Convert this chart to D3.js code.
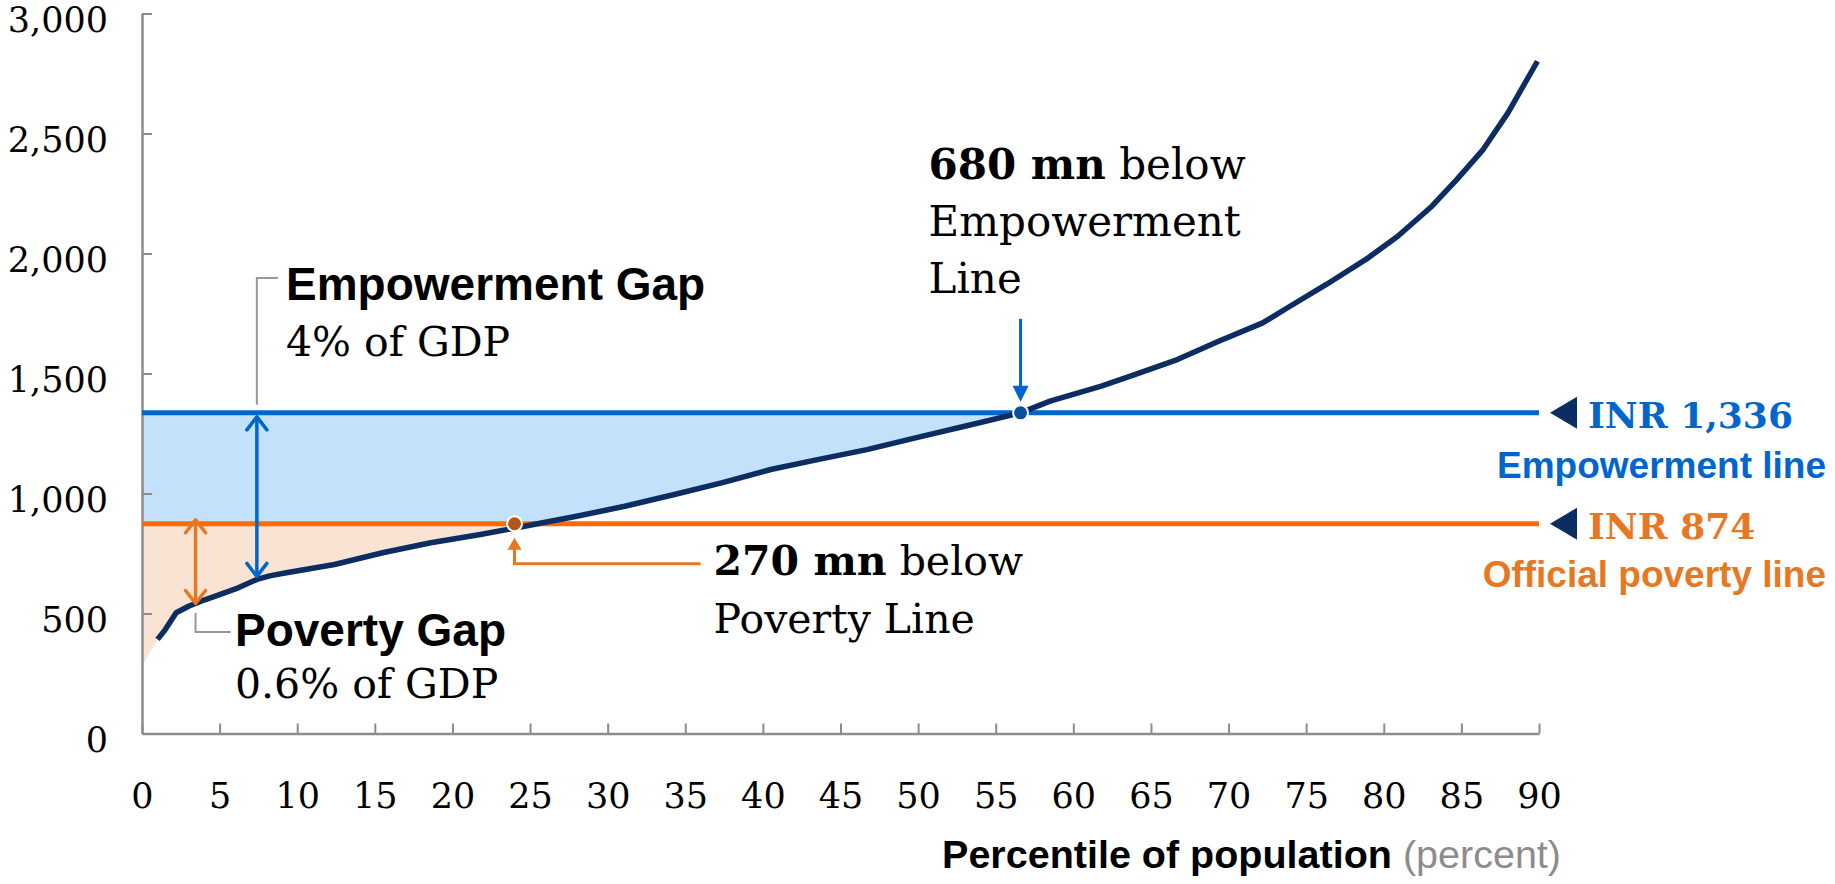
<!DOCTYPE html>
<html>
<head>
<meta charset="utf-8">
<script src="https://cdn.jsdelivr.net/npm/d3@7"></script>
<style>
  html, body { margin: 0; padding: 0; background: #ffffff; }
  svg { display: block; }
</style>
</head>
<body>
<svg id="chart" width="1835" height="884"></svg>
<script>
// Monthly per-capita consumption (INR) across population percentiles
const percentiles = [0, 1.0, 1.5, 2.2, 3.0, 4.0, 5.0, 6.2, 7.4, 8.3, 9.3, 12.4, 15.5, 18.6, 21.8, 23.8,
  28.0, 31.1, 34.3, 37.4, 40.5, 43.6, 46.7, 50.3, 53.0, 56.6, 58.5, 61.8, 64.0, 66.7, 69.4, 72.2,
  73.8, 76.3, 79.0, 80.9, 83.1, 84.7, 86.4, 88.0, 89.9];
const consumption = [280, 392, 433, 503, 530, 556, 579, 607, 642, 658, 670, 704, 753, 795, 829, 853,
  905, 947, 996, 1045, 1100, 1142, 1183, 1239, 1280, 1336, 1385, 1447, 1496, 1558, 1635, 1711,
  1774, 1871, 1982, 2072, 2197, 2308, 2433, 2586, 2801];

const xTicks = [0, 5, 10, 15, 20, 25, 30, 35, 40, 45, 50, 55, 60, 65, 70, 75, 80, 85, 90];
const yTicks = [0, 500, 1000, 1500, 2000, 2500, 3000];

// Reference lines (INR per month)
const EMPOWERMENT_LINE = 1336;
const POVERTY_LINE = 874;

// Where the curve meets each line, and where the gap arrows sit (percentile)
const empowermentCrossPct = 56.6;
const povertyCrossPct = 24;
const empowermentGapPct = 7.4;
const povertyGapPct = 3.45;

const SERIF = "'DejaVu Serif', Georgia, serif";
const SANS = "'Liberation Sans', Arial, sans-serif";
const C = {
  navy: "#0b2d62",
  blue: "#0066cc",
  blueFill: "#c4e1fb",
  orange: "#ff6a00",
  orangeDark: "#e87722",
  peach: "#f9e3d3",
  axis: "#8c8c8c",
  bracket: "#999999",
  povDot: "#b4561c",
  empDot: "#0a4fa0"
};

const svg = d3.select("#chart");
const x = d3.scaleLinear().domain([0, 90]).range([142, 1539]);
const y = d3.scaleLinear().domain([0, 3000]).range([733.5, 13.5]);

const pts = percentiles.map((p, i) => ({ p, v: consumption[i] }));
const valueAt = p => {
  const i = d3.bisector(d => d.p).left(pts, p);
  if (i <= 0) return pts[0].v;
  if (i >= pts.length) return pts[pts.length - 1].v;
  const a = pts[i - 1], b = pts[i];
  return a.v + (b.v - a.v) * (p - a.p) / (b.p - a.p);
};

// ---- clip regions for the two gap fills
const defs = svg.append("defs");
defs.append("clipPath").attr("id", "clipEmp").append("rect")
  .attr("x", x(0)).attr("y", y(EMPOWERMENT_LINE))
  .attr("width", x(90) - x(0)).attr("height", y(POVERTY_LINE) - y(EMPOWERMENT_LINE));
defs.append("clipPath").attr("id", "clipPov").append("rect")
  .attr("x", x(0)).attr("y", y(POVERTY_LINE))
  .attr("width", x(90) - x(0)).attr("height", y(0) - y(POVERTY_LINE));

// Empowerment gap: between the empowerment line and the curve / poverty line
svg.append("path")
  .datum(pts)
  .attr("clip-path", "url(#clipEmp)")
  .attr("fill", C.blueFill)
  .attr("d", d3.area().x(d => x(d.p)).y0(y(EMPOWERMENT_LINE)).y1(d => y(d.v)));

// Poverty gap: between the poverty line and the curve
svg.append("path")
  .datum(pts)
  .attr("clip-path", "url(#clipPov)")
  .attr("fill", C.peach)
  .attr("d", d3.area().x(d => x(d.p)).y0(y(POVERTY_LINE)).y1(d => y(d.v)));

// ---- axes
const yAxis = svg.append("g")
  .attr("transform", `translate(${x(0)},0)`)
  .call(d3.axisLeft(y).tickValues(yTicks).tickFormat(d3.format(","))
    .tickSizeInner(-10).tickSizeOuter(0).tickPadding(34));
const xAxis = svg.append("g")
  .attr("transform", `translate(0,${y(0)})`)
  .call(d3.axisBottom(x).tickValues(xTicks).tickFormat(d3.format("d"))
    .tickSizeInner(-10).tickSizeOuter(0).tickPadding(50));

[yAxis, xAxis].forEach(g => {
  g.select(".domain").attr("stroke", C.axis).attr("stroke-width", 2.5);
  g.selectAll(".tick line").attr("stroke", C.axis).attr("stroke-width", 2);
  g.selectAll(".tick text")
    .attr("font-family", SERIF).attr("font-size", 35).attr("fill", "#000");
});
yAxis.selectAll(".tick text").attr("dy", "0.5em");

// ---- threshold lines
svg.append("line")
  .attr("x1", x(0)).attr("x2", x(90))
  .attr("y1", y(EMPOWERMENT_LINE)).attr("y2", y(EMPOWERMENT_LINE))
  .attr("stroke", C.blue).attr("stroke-width", 5);
svg.append("line")
  .attr("x1", x(0)).attr("x2", x(90))
  .attr("y1", y(POVERTY_LINE)).attr("y2", y(POVERTY_LINE))
  .attr("stroke", C.orange).attr("stroke-width", 5);

// ---- consumption curve
svg.append("path")
  .datum(pts.slice(1))
  .attr("fill", "none")
  .attr("stroke", C.navy)
  .attr("stroke-width", 5.5)
  .attr("stroke-linejoin", "round")
  .attr("d", d3.line().x(d => x(d.p)).y(d => y(d.v)));

// ---- double-headed gap arrows (open chevrons)
function doubleArrow(px, yTop, yBot, color) {
  const g = svg.append("g").attr("fill", "none").attr("stroke", color)
    .attr("stroke-width", 3.5).attr("stroke-linecap", "round").attr("stroke-linejoin", "round");
  g.append("line").attr("x1", px).attr("x2", px).attr("y1", yTop + 1).attr("y2", yBot - 1);
  g.append("path").attr("d", `M${px - 10},${yTop + 13}L${px},${yTop}L${px + 10},${yTop + 13}`);
  g.append("path").attr("d", `M${px - 10},${yBot - 13}L${px},${yBot}L${px + 10},${yBot - 13}`);
}
doubleArrow(x(empowermentGapPct), y(EMPOWERMENT_LINE) + 4, y(valueAt(empowermentGapPct)) - 3, C.blue);
doubleArrow(x(povertyGapPct), y(POVERTY_LINE) - 4, y(valueAt(povertyGapPct)), C.orangeDark);

// ---- gap labels with leader brackets
const egx = x(empowermentGapPct);
svg.append("path")
  .attr("d", `M${egx},${y(EMPOWERMENT_LINE) - 8}V278H${egx + 21}`)
  .attr("fill", "none").attr("stroke", C.bracket).attr("stroke-width", 2);
svg.append("text").attr("x", 286).attr("y", 300)
  .attr("font-family", SANS).attr("font-weight", "bold").attr("font-size", 46)
  .text("Empowerment Gap");
svg.append("text").attr("x", 286).attr("y", 356)
  .attr("font-family", SERIF).attr("font-size", 41)
  .text("4% of GDP");

const pgx = x(povertyGapPct);
svg.append("path")
  .attr("d", `M${pgx},613V632H${pgx + 35}`)
  .attr("fill", "none").attr("stroke", C.bracket).attr("stroke-width", 2);
svg.append("text").attr("x", 235).attr("y", 646)
  .attr("font-family", SANS).attr("font-weight", "bold").attr("font-size", 46)
  .text("Poverty Gap");
svg.append("text").attr("x", 235).attr("y", 698)
  .attr("font-family", SERIF).attr("font-size", 41)
  .text("0.6% of GDP");

// ---- empowerment-line crossing callout
const ex = x(empowermentCrossPct), ey = y(EMPOWERMENT_LINE);
svg.append("line").attr("x1", ex).attr("x2", ex).attr("y1", ey - 94).attr("y2", ey - 22)
  .attr("stroke", C.blue).attr("stroke-width", 3);
svg.append("path").attr("d", `M${ex - 8},${ey - 27}L${ex + 8},${ey - 27}L${ex},${ey - 11}Z`)
  .attr("fill", C.blue);
const empText = svg.append("text").attr("font-family", SERIF).attr("font-size", 42).attr("fill", "#000");
empText.append("tspan").attr("x", ex - 92).attr("y", ey - 234)
  .attr("font-weight", "bold").text("680 mn");
empText.append("tspan").text(" below");
empText.append("tspan").attr("x", ex - 92).attr("y", ey - 177).text("Empowerment");
empText.append("tspan").attr("x", ex - 92).attr("y", ey - 120).text("Line");

svg.append("circle").attr("cx", ex).attr("cy", ey).attr("r", 7.5)
  .attr("fill", C.empDot).attr("stroke", "#fff").attr("stroke-width", 2);

// ---- poverty-line crossing callout
const px = x(povertyCrossPct), py = y(POVERTY_LINE);
svg.append("path").attr("d", `M${px},${py + 14}L${px + 7},${py + 26}L${px - 7},${py + 26}Z`)
  .attr("fill", C.orangeDark);
svg.append("path").attr("d", `M${px},${py + 24}V${py + 40}H${px + 186}`)
  .attr("fill", "none").attr("stroke", C.orangeDark).attr("stroke-width", 3);
const povText = svg.append("text").attr("font-family", SERIF).attr("font-size", 41).attr("fill", "#000");
povText.append("tspan").attr("x", px + 199).attr("y", py + 51)
  .attr("font-weight", "bold").text("270 mn");
povText.append("tspan").text(" below");
povText.append("tspan").attr("x", px + 199).attr("y", py + 109).text("Poverty Line");

svg.append("circle").attr("cx", px).attr("cy", py).attr("r", 7.5)
  .attr("fill", C.povDot).attr("stroke", "#fff").attr("stroke-width", 2);

// ---- right-hand line labels
function lineLabel(value, amount, name, color, nameDy) {
  const yy = y(value);
  svg.append("path")
    .attr("d", `M${x(90) + 11},${yy}L${x(90) + 38},${yy - 16}L${x(90) + 38},${yy + 16}Z`)
    .attr("fill", C.navy);
  svg.append("text").attr("x", 1588).attr("y", yy + 15)
    .attr("font-family", SERIF).attr("font-weight", "bold").attr("font-size", 36)
    .attr("fill", color).text(amount);
  svg.append("text").attr("x", 1826).attr("y", yy + nameDy).attr("text-anchor", "end")
    .attr("font-family", SANS).attr("font-weight", "bold").attr("font-size", 37)
    .attr("fill", color).text(name);
}
lineLabel(EMPOWERMENT_LINE, "INR 1,336", "Empowerment line", C.blue, 65);
lineLabel(POVERTY_LINE, "INR 874", "Official poverty line", C.orangeDark, 63);

// ---- x-axis title
const xTitle = svg.append("text").attr("x", 1561).attr("y", 868).attr("text-anchor", "end")
  .attr("font-family", SANS).attr("font-size", 39.5);
xTitle.append("tspan").attr("font-weight", "bold").attr("fill", "#000").text("Percentile of population");
xTitle.append("tspan").attr("fill", "#8c8c8c").text(" (percent)");
</script>
</body>
</html>
